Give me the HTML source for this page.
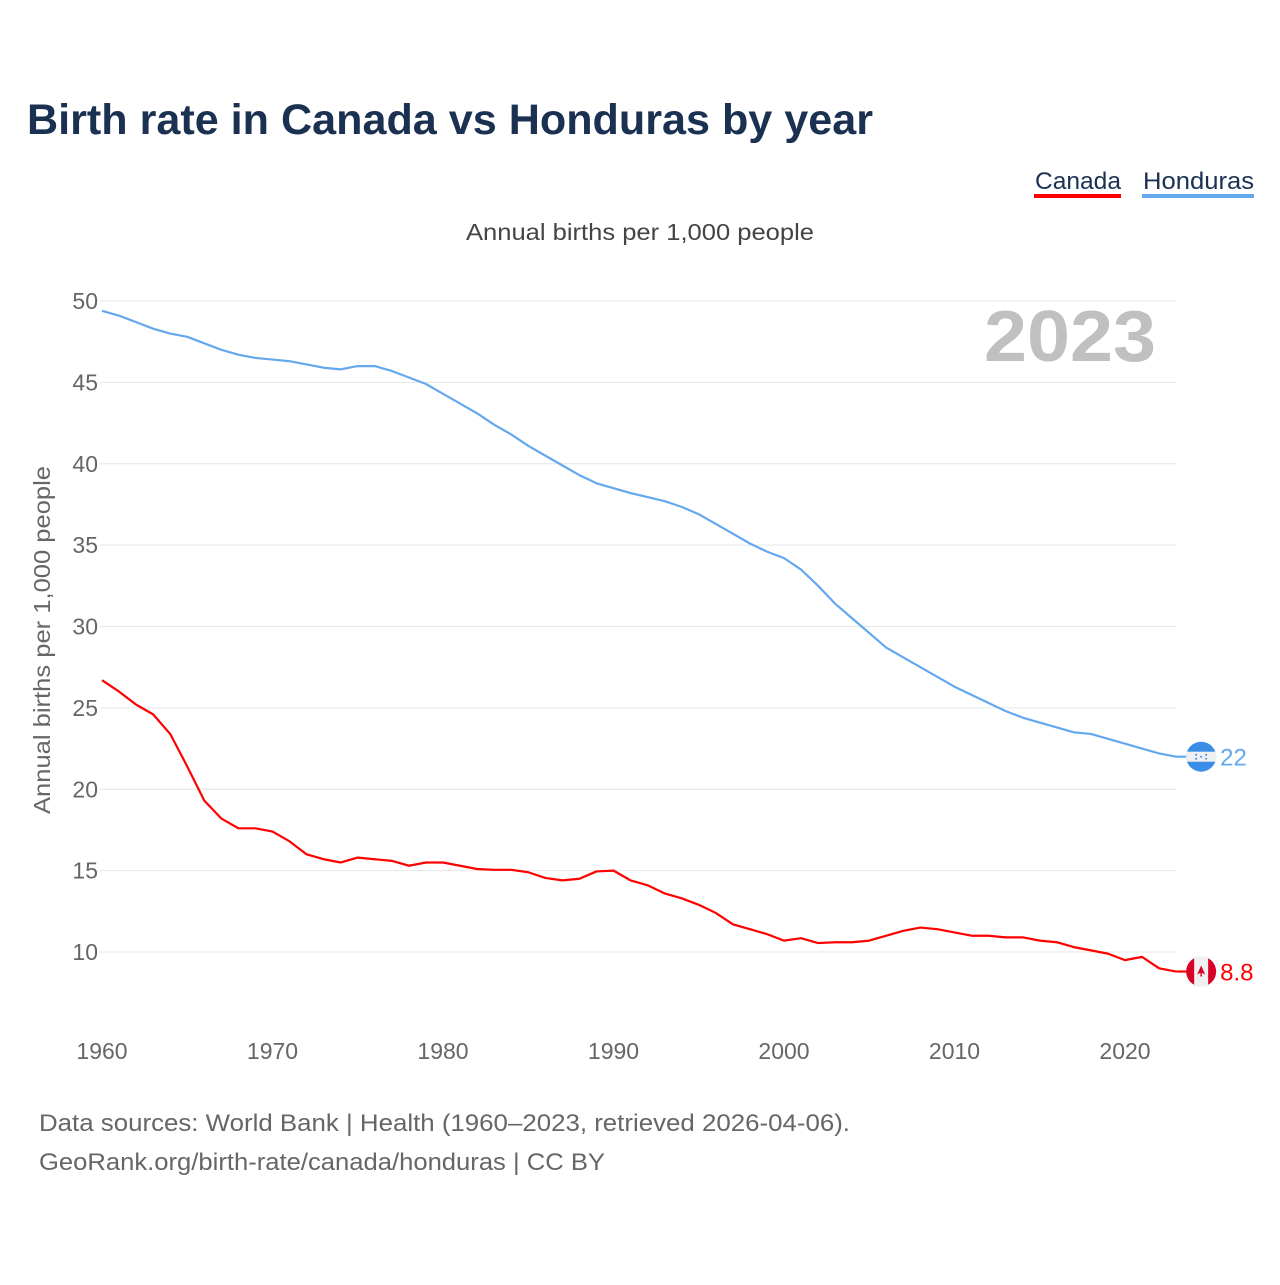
<!DOCTYPE html>
<html><head><meta charset="utf-8"><style>
body{margin:0;background:#fff;width:1280px;height:1280px;overflow:hidden;font-family:"Liberation Sans",sans-serif}
</style></head><body>
<svg id="chart" width="1280" height="1280" xmlns="http://www.w3.org/2000/svg" font-family="Liberation Sans, sans-serif">
<text x="27" y="134" font-size="43" font-weight="bold" fill="#1b3152" textLength="846" lengthAdjust="spacingAndGlyphs">Birth rate in Canada vs Honduras by year</text>
<g>
<g><text x="1035" y="189" font-size="24" fill="#1b3152" textLength="86" lengthAdjust="spacingAndGlyphs">Canada</text><rect x="1034" y="194" width="87" height="4" fill="#ff0000"/></g>
<g><text x="1143" y="189" font-size="24" fill="#1b3152" textLength="111" lengthAdjust="spacingAndGlyphs">Honduras</text><rect x="1142" y="194" width="112" height="4" fill="#64a8ee"/></g>
</g>
<text x="466" y="240" font-size="23" fill="#444" textLength="348" lengthAdjust="spacingAndGlyphs">Annual births per 1,000 people</text>
<text transform="translate(50,640) rotate(-90)" font-size="23" fill="#666" text-anchor="middle" textLength="348" lengthAdjust="spacingAndGlyphs">Annual births per 1,000 people</text>
<text x="984" y="361" font-size="72" font-weight="bold" fill="#c0c0c0" textLength="172" lengthAdjust="spacingAndGlyphs">2023</text>
<g id="grid"></g><g id="series"></g>
<text x="39" y="1131" font-size="24" fill="#666" textLength="811" lengthAdjust="spacingAndGlyphs">Data sources: World Bank | Health (1960–2023, retrieved 2026-04-06).</text>
<text x="39" y="1170" font-size="24" fill="#666" textLength="566" lengthAdjust="spacingAndGlyphs">GeoRank.org/birth-rate/canada/honduras | CC BY</text>
</svg>
<script>
const years=[];for(let y=1960;y<=2023;y++)years.push(y);
const honduras=[49.4,49.1,48.7,48.3,48.0,47.8,47.4,47.0,46.7,46.5,46.4,46.3,46.1,45.9,45.8,46.0,46.0,45.7,45.3,44.9,44.3,43.7,43.1,42.4,41.8,41.1,40.5,39.9,39.3,38.8,38.5,38.2,37.95,37.7,37.35,36.9,36.3,35.7,35.1,34.6,34.2,33.5,32.5,31.4,30.5,29.6,28.7,28.1,27.5,26.9,26.3,25.8,25.3,24.8,24.4,24.1,23.8,23.5,23.4,23.1,22.8,22.5,22.2,22.0];
const canada=[26.7,26.0,25.2,24.6,23.4,21.4,19.3,18.2,17.6,17.6,17.4,16.8,16.0,15.7,15.5,15.8,15.7,15.6,15.3,15.5,15.5,15.3,15.1,15.05,15.05,14.9,14.55,14.4,14.5,14.95,15.0,14.4,14.1,13.6,13.3,12.9,12.4,11.7,11.4,11.1,10.7,10.85,10.55,10.6,10.6,10.7,11.0,11.3,11.5,11.4,11.2,11.0,11.0,10.9,10.9,10.7,10.6,10.3,10.1,9.9,9.5,9.7,9.0,8.8];
const yTicks=[10,15,20,25,30,35,40,45,50];
const xTicks=[1960,1970,1980,1990,2000,2010,2020];
const NS="http://www.w3.org/2000/svg";
function X(y){return 102+(y-1960)*17.05;}
function Y(v){return 952-(v-10)*16.275;}
function mk(t,a,p){const e=document.createElementNS(NS,t);for(const k in a)e.setAttribute(k,a[k]);p.appendChild(e);return e;}
const grid=document.getElementById('grid'),ser=document.getElementById('series');
yTicks.forEach(v=>{
 const l=mk('line',{x1:100,x2:1176,y1:Y(v),y2:Y(v),stroke:'#e6e6e6','stroke-width':1},grid);
 
 
 const t=mk('text',{x:98,y:Y(v)+8,'font-size':23,fill:'#666','text-anchor':'end'},grid);t.textContent=v;
 
 
});
xTicks.forEach(v=>{
 const t=mk('text',{x:X(v),y:1059,'font-size':23,fill:'#666','text-anchor':'middle'},grid);t.textContent=v;
 
 
});
function line(vals,col,name){
 const p=mk('polyline',{points:vals.map((v,i)=>X(years[i])+','+Y(v)).join(' '),fill:'none',stroke:col,'stroke-width':2.2,'stroke-linejoin':'round'},ser);
 
 
}
line(honduras,'#64a8ee','honduras');line(canada,'#ff0000','canada');
const hv=honduras[honduras.length-1],cv=canada[canada.length-1];
const hx=X(2023)+25,hy=Y(hv),cy=Y(cv);
mk('line',{x1:X(2023),x2:hx-14,y1:hy,y2:hy,stroke:'#64a8ee','stroke-width':2.2},ser);
mk('line',{x1:X(2023),x2:hx-14,y1:cy,y2:cy,stroke:'#ff0000','stroke-width':2.2},ser);
const hf=mk('g',{},ser);


mk('circle',{cx:hx,cy:hy,r:15,fill:'#3a8ee8'},hf);
mk('rect',{x:hx-15,y:hy-5,width:30,height:10,fill:'#f0f0f0'},hf);
[[-5,-2],[5,-2],[0,0],[-5,2],[5,2]].forEach(d=>mk('circle',{cx:hx+d[0],cy:hy+d[1],r:1,fill:'#3a8ee8'},hf));
const ht=mk('text',{x:hx+19,y:hy+9,'font-size':24,fill:'#64a8ee'},ser);ht.textContent=Math.round(hv);


const cf=mk('g',{},ser);


mk('circle',{cx:hx,cy:cy,r:15,fill:'#d80027'},cf);
mk('rect',{x:hx-7,y:cy-15,width:14,height:30,fill:'#f0f0f0'},cf);
mk('path',{d:`M${hx} ${cy-6} L${hx+4} ${cy+3} L${hx} ${cy+1} L${hx-4} ${cy+3}Z`,fill:'#d80027'},cf);
mk('rect',{x:hx-0.7,y:cy,width:1.4,height:5,fill:'#d80027'},cf);
const ct=mk('text',{x:hx+19,y:cy+9,'font-size':24,fill:'#ff0000'},ser);ct.textContent=cv.toFixed(1);


</script>
</body></html>
